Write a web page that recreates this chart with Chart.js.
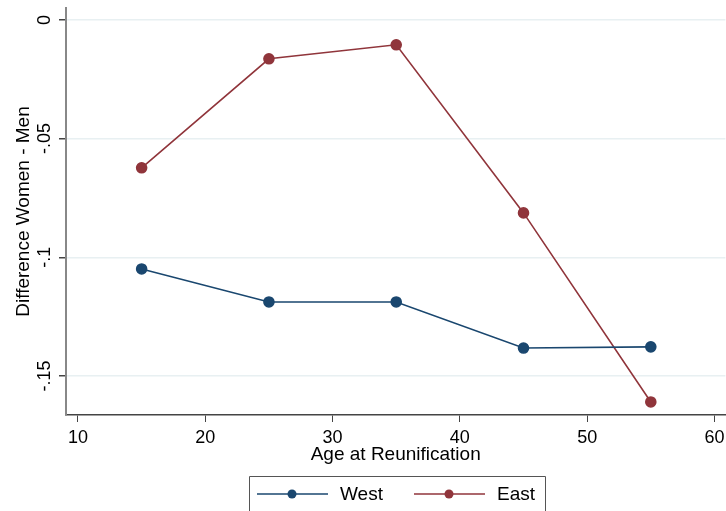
<!DOCTYPE html>
<html>
<head>
<meta charset="utf-8">
<script src="https://cdn.jsdelivr.net/npm/chart.js@4.4.0/dist/chart.umd.min.js"></script>
<style>
  html, body { margin: 0; padding: 0; background: #fff; overflow: hidden; }
  #wrap { width: 726px; height: 511px; position: relative; overflow: hidden; }
</style>
</head>
<body>
<div id="wrap"><canvas id="chart" width="732" height="511"></canvas></div>
<script>
const ages = [15, 25, 35, 45, 55];
const west = [-0.1049, -0.1188, -0.1188, -0.1382, -0.1377];
const east = [-0.0623, -0.0164, -0.0105, -0.0813, -0.1609];
const xTicks = [10, 20, 30, 40, 50, 60];
const yTicks = [-0.15, -0.1, -0.05, 0];
const yLabels = ['-.15', '-.1', '-.05', '0'];
const seriesNames = ['West', 'East'];

const navy = '#1a476f';
const maroon = '#90353b';
const font = '"Liberation Sans", Arial, sans-serif';

// y tick labels are rotated in the original, draw them ourselves
const rotatedYLabels = {
    id: 'rotatedYLabels',
    afterDraw(chart) {
        const ctx = chart.ctx;
        const y = chart.scales.y;
        ctx.save();
        ctx.fillStyle = '#000';
        ctx.font = '18px ' + font;
        ctx.textAlign = 'center';
        ctx.textBaseline = 'middle';
        yTicks.forEach((v, i) => {
            ctx.save();
            ctx.translate(45, y.getPixelForValue(v));
            ctx.rotate(-Math.PI / 2);
            ctx.fillText(yLabels[i], 0, 0);
            ctx.restore();
        });
        ctx.restore();
    }
};

// boxed legend under the x axis title
const boxLegend = {
    id: 'boxLegend',
    afterDraw(chart) {
        const ctx = chart.ctx;
        ctx.save();
        ctx.strokeStyle = '#555';
        ctx.lineWidth = 1;
        ctx.beginPath();
        ctx.moveTo(249.5, 512);
        ctx.lineTo(249.5, 476.5);
        ctx.lineTo(545.5, 476.5);
        ctx.lineTo(545.5, 512);
        ctx.stroke();

        const items = [
            { name: seriesNames[0], color: navy, x: 257 },
            { name: seriesNames[1], color: maroon, x: 414 }
        ];
        items.forEach(it => {
            ctx.strokeStyle = it.color;
            ctx.lineWidth = 1.6;
            ctx.beginPath();
            ctx.moveTo(it.x, 494);
            ctx.lineTo(it.x + 71, 494);
            ctx.stroke();
            ctx.fillStyle = it.color;
            ctx.beginPath();
            ctx.arc(it.x + 35, 494, 4.5, 0, Math.PI * 2);
            ctx.fill();
            ctx.fillStyle = '#000';
            ctx.font = '19px ' + font;
            ctx.textAlign = 'left';
            ctx.textBaseline = 'middle';
            ctx.fillText(it.name, it.x + 83, 495);
        });
        ctx.restore();
    }
};

const ctx = document.getElementById('chart').getContext('2d');
new Chart(ctx, {
    type: 'line',
    data: {
        datasets: [
            {
                label: seriesNames[0],
                data: ages.map((a, i) => ({ x: a, y: west[i] })),
                borderColor: navy,
                backgroundColor: navy,
                borderWidth: 1.6,
                pointRadius: 5,
                pointHoverRadius: 5,
                tension: 0
            },
            {
                label: seriesNames[1],
                data: ages.map((a, i) => ({ x: a, y: east[i] })),
                borderColor: maroon,
                backgroundColor: maroon,
                borderWidth: 1.6,
                pointRadius: 5,
                pointHoverRadius: 5,
                tension: 0
            }
        ]
    },
    options: {
        responsive: false,
        animation: false,
        layout: { padding: { top: 8, right: 0, left: 0, bottom: 0 } },
        plugins: {
            legend: { display: false },
            tooltip: { enabled: false }
        },
        scales: {
            x: {
                type: 'linear',
                min: 9.058,
                max: 60.86,
                afterBuildTicks: s => { s.ticks = xTicks.map(v => ({ value: v })); },
                afterFit: s => { s.height = 96; },
                grid: {
                    drawOnChartArea: false,
                    drawTicks: true,
                    tickLength: 7,
                    color: '#444'
                },
                border: { color: '#444', width: 1.5 },
                ticks: {
                    color: '#000',
                    font: { size: 18, family: font },
                    padding: 5,
                    maxRotation: 0
                },
                title: {
                    display: true,
                    text: 'Age at Reunification',
                    color: '#000',
                    font: { size: 19, family: font },
                    padding: { top: 0, bottom: 45 }
                }
            },
            y: {
                type: 'linear',
                min: -0.1664,
                max: 0.005,
                afterBuildTicks: s => { s.ticks = yTicks.map(v => ({ value: v })); },
                afterFit: s => { s.width = 66; },
                grid: {
                    color: '#e8f0f2',
                    lineWidth: 1.5,
                    drawTicks: true,
                    tickLength: 7,
                    tickColor: '#444'
                },
                border: { color: '#888', width: 2 },
                ticks: { display: false },
                title: {
                    display: true,
                    text: 'Difference Women - Men',
                    color: '#000',
                    font: { size: 19, family: font },
                    padding: { top: 12, bottom: 0 }
                }
            }
        }
    },
    plugins: [rotatedYLabels, boxLegend]
});
</script>
</body>
</html>
